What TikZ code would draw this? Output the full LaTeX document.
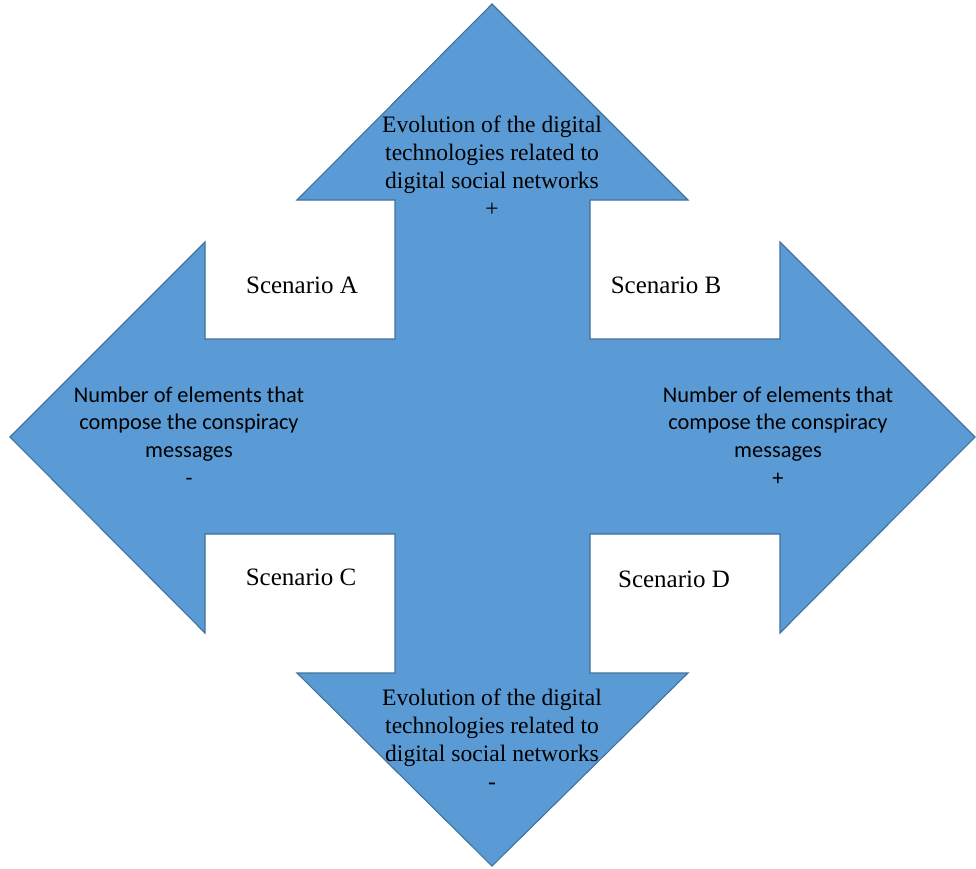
\documentclass[tikz,border=0pt]{standalone}
\usepackage{fontspec}
\setmainfont{Liberation Serif}
\newfontfamily\calfont{Carlito}
\definecolor{arrowfill}{HTML}{5B9BD5}
\definecolor{arrowline}{HTML}{41719C}
\tikzset{
  crossarrow/.style={fill=arrowfill, draw=arrowline, line width=1.1pt, line join=miter},
  axislabel/.style={align=center, inner sep=0pt, font=\fontsize{23.6}{27.8}\selectfont},
  sidelabel/.style={align=center, inner sep=0pt, font=\calfont\fontsize{22.4}{27.7}\selectfont},
  scenlabel/.style={inner sep=0pt, font=\fontsize{25}{28}\selectfont}
}
\begin{document}
\begin{tikzpicture}[x=1pt,y=-1pt]
\useasboundingbox (0,0) rectangle (976,868);
\draw[crossarrow]
  (492,4) -- (688,200) -- (590,200) -- (590,339) -- (780,339) -- (780,242)
  -- (975,437) -- (780,633) -- (780,534) -- (590,534) -- (590,673) -- (688,673)
  -- (492,866) -- (297,673) -- (395,673) -- (395,534) -- (205,534) -- (205,633)
  -- (10,437) -- (205,242) -- (205,339) -- (395,339) -- (395,200) -- (297,200) -- cycle;
\node[axislabel] (top) at (492,166) {Evolution of the digital\\technologies related to\\digital social networks\\+};
\node[axislabel] (bottom) at (492,739) {Evolution of the digital\\technologies related to\\digital social networks\\-};
\node[sidelabel] (left) at (189,436) {Number of elements that\\compose the conspiracy\\messages\\-};
\node[sidelabel] (right) at (778,436) {Number of elements that\\compose the conspiracy\\messages\\+};
\node[scenlabel] (sa) at (302,285) {Scenario A};
\node[scenlabel] (sb) at (666,285) {Scenario B};
\node[scenlabel] (sc) at (301,577) {Scenario C};
\node[scenlabel] (sd) at (674,579) {Scenario D};
\end{tikzpicture}
\end{document}
